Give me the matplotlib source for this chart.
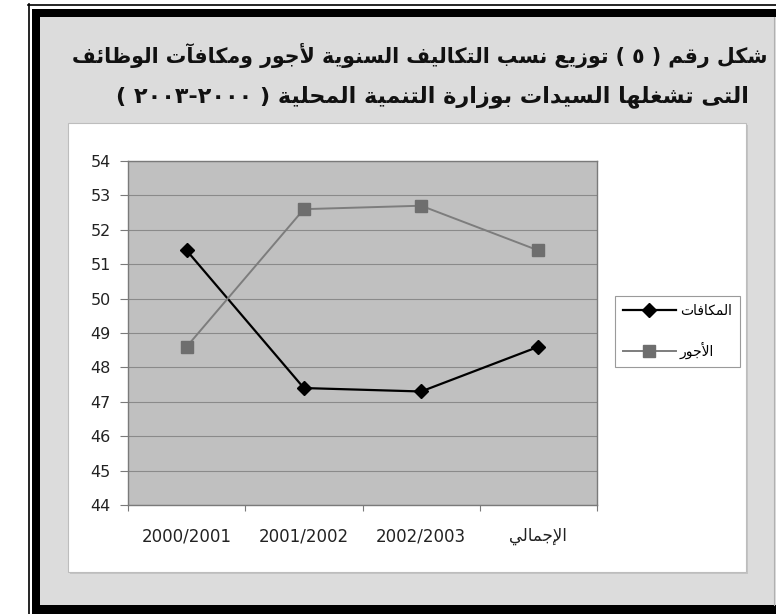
import re
import matplotlib
matplotlib.use("Agg")
import matplotlib.pyplot as plt
from matplotlib.patches import Rectangle
from matplotlib.lines import Line2D

# ---------------------------------------------------------------- data
categories = ["2000/2001", "2001/2002", "2002/2003", "الإجمالي"]
bonuses = [51.4, 47.4, 47.3, 48.6]      # المكافات
wages = [48.6, 52.6, 52.7, 51.4]        # الأجور
series_labels = ["المكافات", "الأجور"]
y_ticks = [44, 45, 46, 47, 48, 49, 50, 51, 52, 53, 54]
title_lines = [
    "شكل رقم ( ٥ ) توزيع نسب التكاليف السنوية لأجور ومكافآت الوظائف",
    "التى تشغلها السيدات بوزارة التنمية المحلية ( ٢٠٠٠-٢٠٠٣ )",
]

# ------------------------------------------------- minimal Arabic shaping
# letter -> (isolated presentation form, dual-joining?)
_JOIN = {
    "\u0622": (0xFE81, False), "\u0623": (0xFE83, False), "\u0624": (0xFE85, False),
    "\u0625": (0xFE87, False), "\u0626": (0xFE89, True), "\u0627": (0xFE8D, False),
    "\u0628": (0xFE8F, True), "\u0629": (0xFE93, False), "\u062A": (0xFE95, True),
    "\u062B": (0xFE99, True), "\u062C": (0xFE9D, True), "\u062D": (0xFEA1, True),
    "\u062E": (0xFEA5, True), "\u062F": (0xFEA9, False), "\u0630": (0xFEAB, False),
    "\u0631": (0xFEAD, False), "\u0632": (0xFEAF, False), "\u0633": (0xFEB1, True),
    "\u0634": (0xFEB5, True), "\u0635": (0xFEB9, True), "\u0636": (0xFEBD, True),
    "\u0637": (0xFEC1, True), "\u0638": (0xFEC5, True), "\u0639": (0xFEC9, True),
    "\u063A": (0xFECD, True), "\u0641": (0xFED1, True), "\u0642": (0xFED5, True),
    "\u0643": (0xFED9, True), "\u0644": (0xFEDD, True), "\u0645": (0xFEE1, True),
    "\u0646": (0xFEE5, True), "\u0647": (0xFEE9, True), "\u0648": (0xFEED, False),
    "\u0649": (0xFEEF, False), "\u064A": (0xFEF1, True),
}
_LAM_ALEF = {"\u0622": 0xFEF5, "\u0623": 0xFEF7, "\u0625": 0xFEF9, "\u0627": 0xFEFB}
_MIRROR = str.maketrans("()", ")(")


def _shape(text):
    out, i, n = [], 0, len(text)
    while i < n:
        c = text[i]
        if c not in _JOIN:
            out.append(c)
            i += 1
            continue
        prev = text[i - 1] if i > 0 else None
        link_prev = prev in _JOIN and _JOIN[prev][1]
        if c == "\u0644" and i + 1 < n and text[i + 1] in _LAM_ALEF:
            out.append(chr(_LAM_ALEF[text[i + 1]] + (1 if link_prev else 0)))
            i += 2
            continue
        nxt = text[i + 1] if i + 1 < n else None
        iso, dual = _JOIN[c]
        link_next = dual and nxt in _JOIN
        if link_prev and link_next:
            g = iso + 3
        elif link_prev:
            g = iso + 1
        elif link_next:
            g = iso + 2
        else:
            g = iso
        out.append(chr(g))
        i += 1
    return "".join(out)


def ar(text):
    """Shape Arabic text and return it in left-to-right display order."""
    if not any(c in _JOIN for c in text):
        return text
    shaped = _shape(text)
    runs = re.findall(r"[0-9\u0660-\u0669]+|[^0-9\u0660-\u0669]+", shaped)
    parts = []
    for r in reversed(runs):
        parts.append(r if r[0].isdigit() else r[::-1].translate(_MIRROR))
    return "".join(parts)


# ---------------------------------------------------------------- figure
W, H = 776, 614
fig = plt.figure(figsize=(W / 100, H / 100), dpi=100)
fig.patch.set_facecolor("white")


def px_rect(x0, y0, x1, y1, **kw):
    """Rectangle given in pixel coordinates measured from the top-left corner."""
    r = Rectangle((x0 / W, 1 - y1 / H), (x1 - x0) / W, (y1 - y0) / H,
                  transform=fig.transFigure, zorder=-10, **kw)
    fig.patches.append(r)
    return r


def px_line(xs, ys, **kw):
    fig.lines.append(Line2D([x / W for x in xs], [1 - y / H for y in ys],
                            transform=fig.transFigure, zorder=-9, **kw))


# double black frame and grey panel
px_line([28.5, 28.5], [4, 614], color="black", lw=1.2)
px_line([28, 776], [4.5, 4.5], color="black", lw=1.2)
px_rect(32, 9, 790, 614, facecolor="black", edgecolor="none")
px_rect(40, 17, 776, 605, facecolor="#dcdcdc", edgecolor="none")
px_line([773.5, 773.5], [17, 605], color="#b0b0b0", lw=0.8)

# white chart area with a faint shadow
px_rect(70, 125, 748, 574, facecolor="#c4c4c4", edgecolor="none")
px_rect(68, 123, 746, 572, facecolor="white", edgecolor="#bdbdbd", lw=0.8)

# title, two centred lines
title_layout = [(420, 55, 14.8), (432, 97, 16.0)]
for line, (cx, cy, size) in zip(title_lines, title_layout):
    fig.text(cx / W, 1 - cy / H, ar(line), ha="center", va="center",
             fontsize=size, fontweight="bold", family="DejaVu Sans", color="#111111")

# ---------------------------------------------------------------- axes
ax = fig.add_axes([128 / W, 1 - 505 / H, (597 - 128) / W, (505 - 161) / H])
ax.set_zorder(5)
ax.set_facecolor("#c0c0c0")
for s in ax.spines.values():
    s.set_color("#7a7a7a")
    s.set_linewidth(1.0)

x = list(range(len(categories)))
ax.plot(x, bonuses, color="black", lw=1.6, marker="D", markersize=7.5,
        markerfacecolor="black", markeredgecolor="black", label=ar(series_labels[0]),
        zorder=3)
ax.plot(x, wages, color="#7d7d7d", lw=1.4, marker="s", markersize=8.5,
        markerfacecolor="#6e6e6e", markeredgecolor="#6e6e6e", label=ar(series_labels[1]),
        zorder=3)

ax.set_xlim(-0.5, len(categories) - 0.5)
ax.set_ylim(y_ticks[0], y_ticks[-1])
ax.set_yticks(y_ticks)
ax.yaxis.grid(True, color="#8a8a8a", lw=0.8)
ax.set_axisbelow(True)
ax.tick_params(axis="y", length=6, width=0.8, color="#7a7a7a", pad=6.5,
               labelsize=11.5, labelcolor="#222222")

# category labels centred on the points, tick marks between categories
ax.set_xticks([i - 0.5 for i in range(len(categories) + 1)])
ax.set_xticklabels([])
ax.set_xticks(x, minor=True)
ax.set_xticklabels([ar(c) for c in categories], minor=True)
ax.tick_params(axis="x", which="major", length=4, width=0.8, color="#7a7a7a")
ax.tick_params(axis="x", which="minor", length=0, pad=16, labelsize=12,
               labelcolor="#222222")
for lab in ax.get_yticklabels() + ax.get_xticklabels(minor=True):
    lab.set_family("DejaVu Sans")

leg = fig.legend(loc="center", bbox_to_anchor=(677.5 / W, 1 - 331.5 / H),
                 bbox_transform=fig.transFigure, frameon=True, fancybox=False,
                 edgecolor="#9a9a9a", facecolor="white", framealpha=1,
                 prop={"family": "DejaVu Sans", "size": 10},
                 handlelength=3.8, handletextpad=0.3, labelspacing=1.75,
                 borderpad=0.55, borderaxespad=0)
leg.get_frame().set_linewidth(0.8)
leg.set_zorder(6)

fig.savefig("out.png", dpi=100, facecolor=fig.get_facecolor())
